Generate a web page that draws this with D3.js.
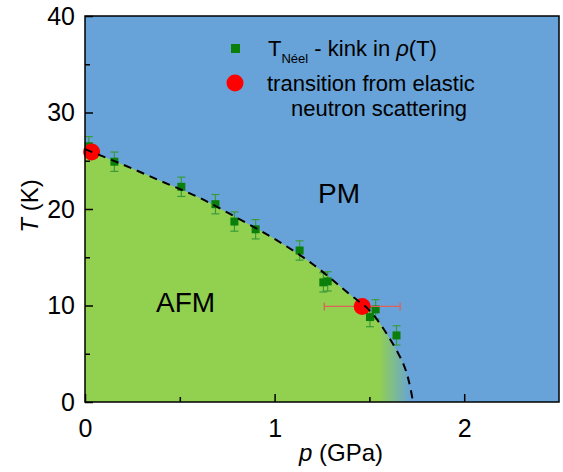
<!DOCTYPE html>
<html>
<head>
<meta charset="utf-8">
<script src="https://cdn.jsdelivr.net/npm/d3@7"></script>
<style>
  html, body { margin: 0; padding: 0; background: #ffffff; }
  svg { display: block; }
  text { font-family: "Liberation Sans", Arial, sans-serif; fill: #000; }
</style>
</head>
<body>
<svg id="chart" width="563" height="472"></svg>
<script>
// ---- data ----
const neelP   = [0.02, 0.155, 0.508, 0.688, 0.788, 0.90, 1.132, 1.257, 1.28, 1.503, 1.533, 1.643];
const neelT   = [26.5, 24.9, 22.3, 20.5, 18.7, 17.9, 15.7, 12.4, 12.5, 8.8, 9.6, 6.9];
const neelErr = [1.0, 1.0, 1.0, 1.0, 1.0, 1.0, 1.0, 1.0, 1.0, 1.0, 1.0, 1.0];

const neutronP    = [0.035, 1.462];
const neutronT    = [25.9, 9.9];
const neutronPErr = [0.0, 0.2];

// phase boundary (dashed guide line)
const boundaryP = [0, 0.2, 0.4, 0.6, 0.8, 1.0, 1.2, 1.4, 1.5, 1.6, 1.68, 1.71, 1.73];
const boundaryT = [26.2, 24.6, 22.9, 21.2, 19.1, 16.9, 14.3, 11.1, 9.5, 6.8, 3.9, 2.0, 0];

const xMajorTicks = [0, 1, 2];
const xMinorTicks = [0.5, 1.5];
const yMajorTicks = [0, 10, 20, 30, 40];
const yMinorTicks = [5, 15, 25, 35];

const regionLabels = ["PM", "AFM"];

// ---- drawing ----
const svg = d3.select("#chart");
const x = d3.scaleLinear().domain([0, 2.5]).range([85, 559]);
const y = d3.scaleLinear().domain([0, 40]).range([402, 16]);

const BLUE = "#67a3d8";
const GREEN = "#92d050";

const defs = svg.append("defs");
const grad = defs.append("linearGradient")
  .attr("id", "afmGrad")
  .attr("gradientUnits", "userSpaceOnUse")
  .attr("x1", x(1.55)).attr("x2", x(1.72))
  .attr("y1", 0).attr("y2", 0);
grad.append("stop").attr("offset", 0).attr("stop-color", GREEN);
grad.append("stop").attr("offset", 1).attr("stop-color", BLUE);

// background (PM)
svg.append("rect")
  .attr("x", x(0)).attr("y", y(40))
  .attr("width", x(2.5) - x(0)).attr("height", y(0) - y(40))
  .attr("fill", BLUE);

const boundary = boundaryP.map((p, i) => ({p, T: boundaryT[i]}));

// AFM area
svg.append("path")
  .datum(boundary)
  .attr("fill", "url(#afmGrad)")
  .attr("d", d3.area()
    .x(d => x(d.p)).y0(y(0)).y1(d => y(d.T))
    .curve(d3.curveCatmullRom));

// region labels
svg.append("text").attr("x", 318).attr("y", 203)
  .attr("font-size", 28).text(regionLabels[0]);
svg.append("text").attr("x", 156).attr("y", 312)
  .attr("font-size", 28).text(regionLabels[1]);

// Néel points with error bars
const neel = neelP.map((p, i) => ({p, T: neelT[i], e: neelErr[i]}));
const eb = svg.append("g").attr("stroke", "#3a9a3a").attr("stroke-width", 1.2);
neel.forEach(d => {
  eb.append("line").attr("x1", x(d.p)).attr("x2", x(d.p))
    .attr("y1", y(d.T - d.e)).attr("y2", y(d.T + d.e));
  eb.append("line").attr("x1", x(d.p) - 4).attr("x2", x(d.p) + 4)
    .attr("y1", y(d.T - d.e)).attr("y2", y(d.T - d.e));
  eb.append("line").attr("x1", x(d.p) - 4).attr("x2", x(d.p) + 4)
    .attr("y1", y(d.T + d.e)).attr("y2", y(d.T + d.e));
});
svg.append("g").selectAll("rect").data(neel).join("rect")
  .attr("x", d => x(d.p) - 4).attr("y", d => y(d.T) - 4)
  .attr("width", 8).attr("height", 8)
  .attr("fill", "#0a800a");

// neutron points
const neutron = neutronP.map((p, i) => ({p, T: neutronT[i], e: neutronPErr[i]}));
const reb = svg.append("g").attr("stroke", "#e0605a").attr("stroke-width", 1.3);
neutron.filter(d => d.e > 0).forEach(d => {
  reb.append("line").attr("x1", x(d.p - d.e)).attr("x2", x(d.p + d.e))
    .attr("y1", y(d.T)).attr("y2", y(d.T));
  reb.append("line").attr("x1", x(d.p - d.e)).attr("x2", x(d.p - d.e))
    .attr("y1", y(d.T) - 4).attr("y2", y(d.T) + 4);
  reb.append("line").attr("x1", x(d.p + d.e)).attr("x2", x(d.p + d.e))
    .attr("y1", y(d.T) - 4).attr("y2", y(d.T) + 4);
});
svg.append("g").selectAll("circle").data(neutron).join("circle")
  .attr("cx", d => x(d.p)).attr("cy", d => y(d.T)).attr("r", 8.5)
  .attr("fill", "#ff0000");

// dashed boundary
svg.append("path")
  .datum(boundary)
  .attr("fill", "none").attr("stroke", "#000").attr("stroke-width", 2)
  .attr("stroke-dasharray", "8,6")
  .attr("d", d3.line().x(d => x(d.p)).y(d => y(d.T)).curve(d3.curveCatmullRom));

// axes
function styleAxis(g) {
  g.select(".domain").remove();
  g.selectAll(".tick line").attr("stroke", "#000").attr("stroke-width", 1.5);
  g.selectAll(".tick text").attr("font-family", "Liberation Sans, Arial, sans-serif")
    .attr("font-size", 25).attr("fill", "#000");
}
svg.append("g").attr("transform", `translate(0,${y(0)})`)
  .call(d3.axisBottom(x).tickValues(xMajorTicks).tickFormat(d3.format("d"))
    .tickSizeInner(-8).tickSizeOuter(0).tickPadding(17))
  .call(styleAxis);
svg.append("g").attr("transform", `translate(0,${y(0)})`)
  .call(d3.axisBottom(x).tickValues(xMinorTicks).tickFormat("")
    .tickSizeInner(-5).tickSizeOuter(0))
  .call(styleAxis);
svg.append("g").attr("transform", `translate(${x(0)},0)`)
  .call(d3.axisLeft(y).tickValues(yMajorTicks).tickFormat(d3.format("d"))
    .tickSizeInner(-8).tickSizeOuter(0).tickPadding(10))
  .call(styleAxis);
svg.append("g").attr("transform", `translate(${x(0)},0)`)
  .call(d3.axisLeft(y).tickValues(yMinorTicks).tickFormat("")
    .tickSizeInner(-5).tickSizeOuter(0))
  .call(styleAxis);

// frame
svg.append("rect")
  .attr("x", x(0)).attr("y", y(40))
  .attr("width", x(2.5) - x(0)).attr("height", y(0) - y(40))
  .attr("fill", "none").attr("stroke", "#000").attr("stroke-width", 1.5);

// axis titles
const xt = svg.append("text").attr("x", 341).attr("y", 461)
  .attr("text-anchor", "middle").attr("font-size", 24);
xt.append("tspan").attr("font-style", "italic").text("p");
xt.append("tspan").text(" (GPa)");

const yt = svg.append("text")
  .attr("transform", "translate(38,206) rotate(-90)")
  .attr("text-anchor", "middle").attr("font-size", 24);
yt.append("tspan").attr("font-style", "italic").text("T");
yt.append("tspan").text(" (K)");

// legend
svg.append("rect").attr("x", 231).attr("y", 44).attr("width", 9).attr("height", 9)
  .attr("fill", "#0a800a");
const l1 = svg.append("text").attr("x", 268).attr("y", 56).attr("font-size", 22);
l1.append("tspan").text("T");
l1.append("tspan").attr("font-size", 13).attr("dy", 7).text("Néel");
l1.append("tspan").attr("dy", -7).text(" - kink in ");
l1.append("tspan").attr("font-style", "italic").text("ρ");
l1.append("tspan").text("(T)");

svg.append("circle").attr("cx", 235).attr("cy", 83).attr("r", 8.5).attr("fill", "#ff0000");
svg.append("text").attr("x", 267).attr("y", 91).attr("font-size", 22)
  .text("transition from elastic");
svg.append("text").attr("x", 291).attr("y", 116).attr("font-size", 22)
  .text("neutron scattering");
</script>
</body>
</html>
